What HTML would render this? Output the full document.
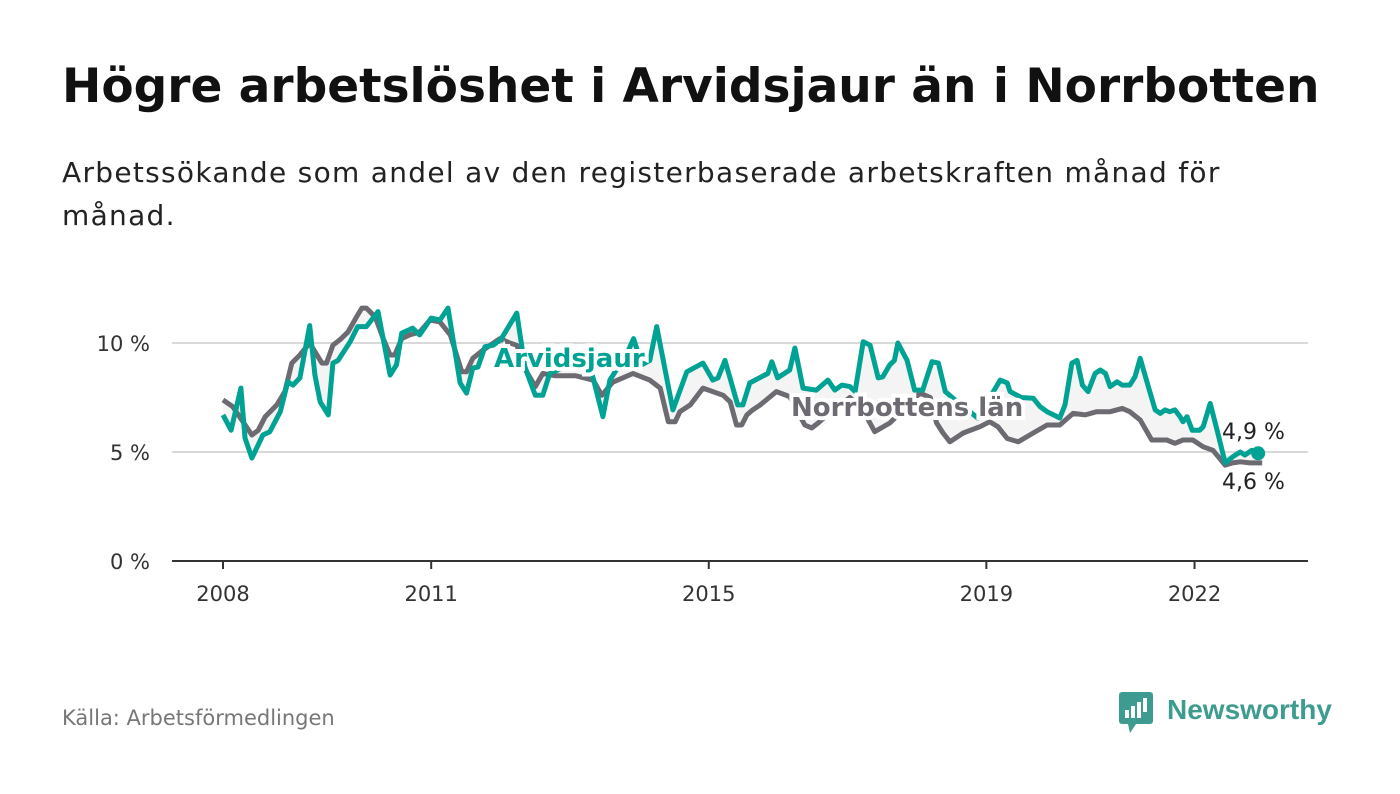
<!DOCTYPE html>
<html><head><meta charset="utf-8"><style>
body{margin:0;width:1400px;height:794px;background:#fff;overflow:hidden;font-family:"DejaVu Sans","Liberation Sans",sans-serif}
.t{position:absolute;left:62px;top:59px;font-size:47px;font-weight:bold;color:#111;white-space:nowrap}
.s{position:absolute;left:62px;top:151px;font-size:28px;line-height:43px;color:#222;width:1250px;letter-spacing:1.3px}
.src{position:absolute;left:62px;top:706px;font-size:21px;color:#777}
</style></head><body>
<div class="t">Högre arbetslöshet i Arvidsjaur än i Norrbotten</div>
<div class="s">Arbetssökande som andel av den registerbaserade arbetskraften månad för<br>månad.</div>
<div class="src">Källa: Arbetsförmedlingen</div>
<svg width="1400" height="794" style="position:absolute;left:0;top:0;font-family:'DejaVu Sans','Liberation Sans',sans-serif">
<g id="grid"></g><g id="marks"></g><g id="labels"></g>
<g>
<rect x="1119" y="692" width="34" height="32" rx="3" fill="#3d9b8f"/>
<path d="M1128 724 L1136 724 L1130 733 Z" fill="#3d9b8f"/>
<rect x="1125" y="710" width="4" height="8" fill="#fff"/><rect x="1131" y="706" width="4" height="12" fill="#fff"/><rect x="1137" y="702" width="4" height="16" fill="#fff"/><rect x="1143" y="698" width="4" height="14" fill="#fff"/>
<text x="1167" y="719" font-size="28" font-weight="bold" fill="#3d9b8f" font-family="Liberation Sans, sans-serif">Newsworthy</text>
</g>
</svg>
<script>
const yTicks=[0,5,10];
const yTickLabels=["0 %","5 %","10 %"];
const xTickYears=[2008,2011,2015,2019,2022];
const tealMonths=[0,1.4,3.1,3.8,5,6.9,8.1,9.9,11.2,12.1,13.3,15,15.9,16.8,18.2,19,19.9,22,23.3,24.8,26.8,28.9,30,30.9,32.8,34,36,37.5,38.9,41,42.1,43.2,44.1,45.3,46.7,48,50.8,52.2,54,55.3,56.5,60,63,64,65.7,66.9,70,71,72.4,73.8,75,77.8,80.2,83,84.7,85.6,86.8,89,89.9,91.1,93.1,94.2,94.9,95.9,98,98.9,100.3,102.6,104.6,105.8,107,108.4,109.3,110.7,111.9,113.3,114.1,115.3,116.1,116.7,118.3,119.6,121,122.6,123.7,124.9,127,130.5,134.4,135.6,136.1,138,140.1,141.3,142.5,144.7,145.6,146.8,147.7,148.6,149.6,150.8,151.7,152.6,153.4,154.6,155.5,156.8,157.7,158.6,160,161.2,162.1,162.9,163.7,164.6,165.5,166,166.7,167.6,168.9,169.5,170.7,171.9,173.3,174.6,175.9,176.7,177.9,179];
const tealValues=[6.7,6.0,7.93,5.64,4.72,5.78,5.93,6.85,8.22,8.07,8.4,10.8,8.53,7.3,6.7,9.08,9.2,10.06,10.75,10.75,11.44,8.53,9.0,10.45,10.68,10.37,11.14,11.05,11.6,8.17,7.7,8.85,8.9,9.83,9.9,10.14,11.37,8.9,7.6,7.6,8.6,9.0,9.2,8.4,6.62,8.3,9.6,10.2,9.0,9.2,10.75,6.93,8.68,9.08,8.3,8.4,9.2,7.16,7.16,8.17,8.45,8.6,9.14,8.4,8.76,9.77,7.93,7.84,8.3,7.84,8.07,8.0,7.77,10.06,9.9,8.4,8.45,9.0,9.2,10.0,9.2,7.84,7.84,9.14,9.08,7.77,7.3,6.56,8.3,8.17,7.77,7.5,7.47,7.08,6.85,6.56,7.16,9.08,9.2,8.07,7.77,8.6,8.76,8.6,8.0,8.22,8.07,8.07,8.45,9.3,8.0,6.93,6.77,6.93,6.85,6.93,6.62,6.39,6.62,6.0,6.0,6.16,7.23,6.0,4.5,4.78,5.0,4.86,5.08,4.94];
const grayMonths=[0,1.7,5,6.1,7.3,9.3,10.7,11.9,13.3,15,17.1,17.9,19,20.2,21.6,23.1,24,24.8,26.3,27.7,28.9,29.7,30.9,32.3,34,35.8,37.5,39.3,41.3,42.1,43.2,45,47.9,49.6,50.8,52.5,54,55.3,57.4,60.9,64,65.5,67.4,70.9,73.8,75.6,77,78.2,79,80.8,83,84.7,86.5,87.7,88.8,89.7,90.6,91.6,92.9,95.7,98,100.6,101.8,102.9,105.8,108.4,110.5,112.7,115.3,117.9,120.5,122.3,123.4,124.5,125.7,128,130.9,132.6,134,135.6,137.5,140.1,142.5,144.7,147,149.1,151.1,153.4,155.5,156.8,158.6,160.6,163.2,164.6,166,167.7,169.5,171.2,173.3,174.6,175.9,177.6,179.7];
const grayValues=[7.39,7.08,5.78,6.0,6.62,7.16,7.77,9.08,9.45,10.0,9.08,9.08,9.9,10.14,10.5,11.2,11.6,11.6,11.2,10.2,9.45,9.45,10.2,10.37,10.5,11.05,10.97,10.37,8.68,8.68,9.3,9.68,10.2,10.0,9.9,8.68,8.0,8.6,8.5,8.5,8.3,7.6,8.2,8.6,8.3,7.93,6.39,6.39,6.85,7.16,7.93,7.77,7.6,7.3,6.24,6.24,6.7,6.93,7.16,7.77,7.54,6.24,6.1,6.33,7.0,7.5,7.0,5.93,6.33,7.0,7.7,7.5,6.33,5.87,5.47,5.87,6.16,6.39,6.16,5.62,5.47,5.87,6.24,6.24,6.77,6.7,6.85,6.85,7.0,6.85,6.47,5.55,5.55,5.4,5.55,5.55,5.24,5.08,4.4,4.5,4.55,4.5,4.5];
const NS="http://www.w3.org/2000/svg";
const X0=172,X1=1308;
function xs(m){return 223+m*5.783;}
function xYear(y){return xs((y-2008)*12);}
function ys(v){return 561-v*21.8;}
function mk(tag,attrs,parent){const e=document.createElementNS(NS,tag);for(const k in attrs)e.setAttribute(k,attrs[k]);parent.appendChild(e);return e;}
const grid=document.getElementById('grid'),marks=document.getElementById('marks'),labels=document.getElementById('labels');
yTicks.forEach((t,i)=>{
 if(t>0){const l=mk('line',{x1:X0,x2:X1,y1:ys(t),y2:ys(t),stroke:'#d9d9d9','stroke-width':2},grid);
 
 }
 const tx=mk('text',{x:150,y:ys(t)+8,'text-anchor':'end','font-size':21,fill:'#333'},labels);
 tx.textContent=yTickLabels[i];
 
 
});
const ax=mk('line',{x1:X0,x2:X1,y1:561,y2:561,stroke:'#333','stroke-width':2},grid);


xTickYears.forEach(y=>{
 const tk=mk('line',{x1:xYear(y),x2:xYear(y),y1:561,y2:569,stroke:'#333','stroke-width':2},grid);
 
 
 const tx=mk('text',{x:xYear(y),y:601,'text-anchor':'middle','font-size':21,fill:'#333'},labels);
 tx.textContent=y;
 
 
});
function pts(ms,vs){return ms.map((m,i)=>xs(m).toFixed(1)+','+ys(vs[i]).toFixed(1));}
const tp=pts(tealMonths,tealValues),gp=pts(grayMonths,grayValues);
const area=mk('polygon',{points:tp.concat(gp.slice().reverse()).join(' '),fill:'#f4f4f4'},marks);


const gl=mk('polyline',{points:gp.join(' '),fill:'none',stroke:'#6d6a72','stroke-width':5,'stroke-linejoin':'round'},marks);


const tl=mk('polyline',{points:tp.join(' '),fill:'none',stroke:'#00a393','stroke-width':5,'stroke-linejoin':'round'},marks);


const last=tealMonths.length-1;
const dot=mk('circle',{cx:xs(tealMonths[last]),cy:ys(tealValues[last]),r:7,fill:'#00a393'},marks);


function lab(txt,x,y,col,name,bold,size){
 const t=mk('text',{x:x,y:y,'font-size':size,'font-weight':bold?'bold':'normal',fill:col,stroke:'#fff','stroke-width':bold?8:0,'paint-order':'stroke'},labels);
 t.textContent=txt;
 
 
}
lab('Arvidsjaur',494,367,'#00a393','arvidsjaur-label',true,26);
lab('Norrbottens län',791,416,'#6d6a72','norrbotten-label',true,26);
lab('4,9 %',1222,439,'#222','arvidsjaur-value-label',false,22);
lab('4,6 %',1222,489,'#222','norrbotten-value-label',false,22);
</script>
</body></html>
